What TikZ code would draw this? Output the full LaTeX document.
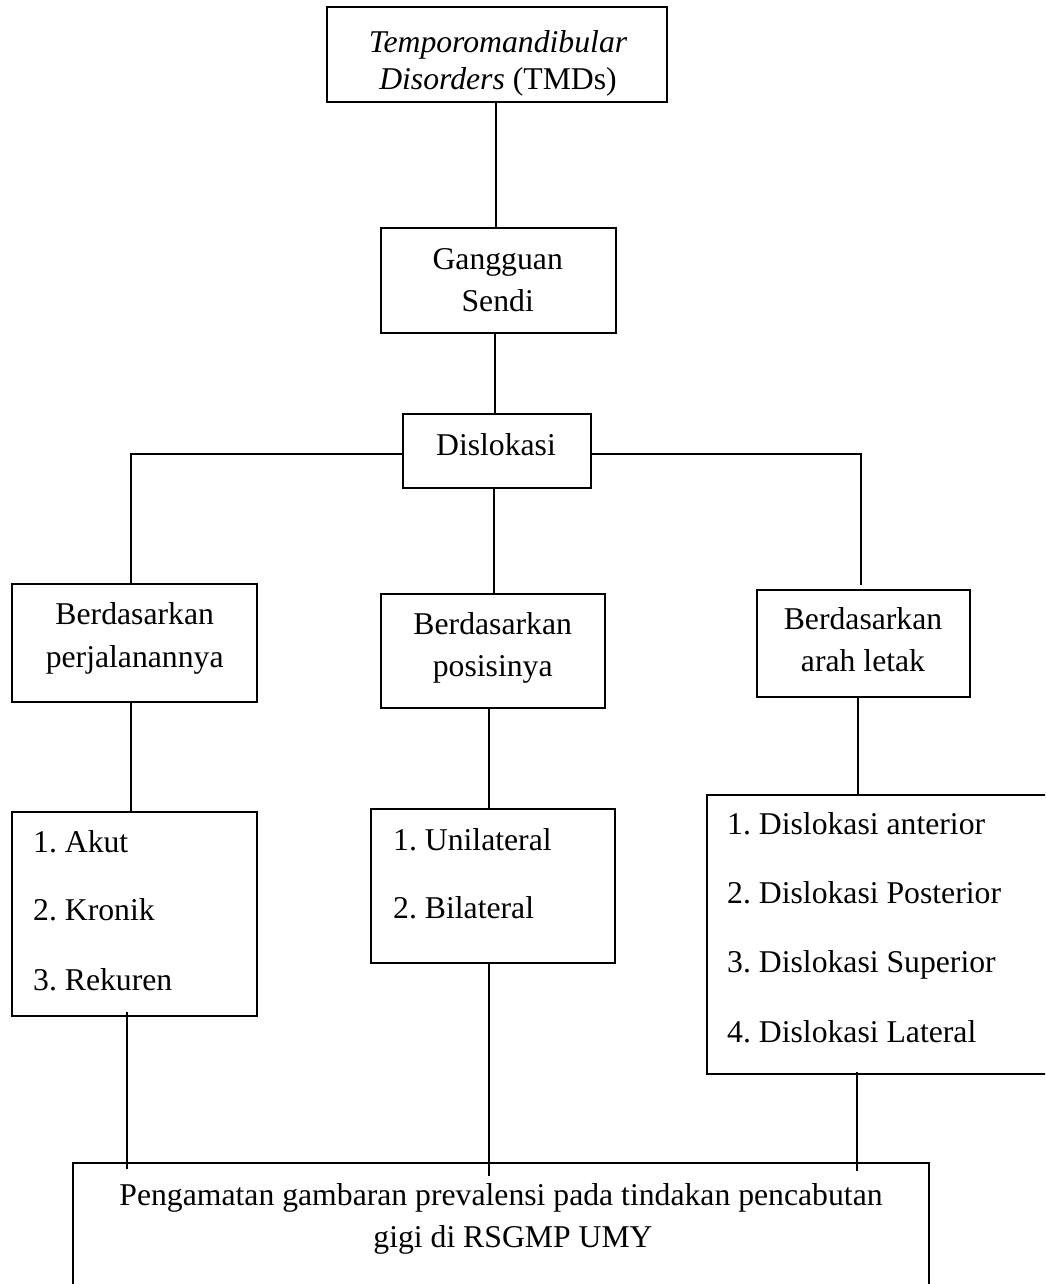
\documentclass[tikz,border=0pt]{standalone}
\usepackage{fontspec}
\setmainfont{Liberation Serif}
\begin{document}
\frenchspacing
\begin{tikzpicture}[x=1pt,y=-1pt,
  box/.style={draw, line width=2.6pt, inner sep=0pt},
  conn/.style={line width=1.5pt},
  txt/.style={inner sep=0pt, anchor=base, font=\fontsize{31.7}{38}\selectfont},
  ltxt/.style={txt, anchor=base west}]
\clip (0,0) rectangle (1045,1284);
\fill[white] (0,0) rectangle (1045,1284);
% boxes
\node[box, minimum width=340pt, minimum height=95pt]  (title) at (497,54.5) {};
\node[box, minimum width=235pt, minimum height=105pt] (gang)  at (498.5,280.5) {};
\node[box, minimum width=188pt, minimum height=74pt]  (disl)  at (497,451) {};
\node[box, minimum width=245pt, minimum height=118pt] (b1)    at (134.5,643) {};
\node[box, minimum width=224pt, minimum height=114pt] (b2)    at (493,651) {};
\node[box, minimum width=213pt, minimum height=107pt] (b3)    at (863.5,643.5) {};
\node[box, minimum width=245pt, minimum height=204pt] (l1)    at (134.5,914) {};
\node[box, minimum width=244pt, minimum height=154pt] (l2)    at (493,886) {};
\node[box, minimum width=353pt, minimum height=279pt] (l3)    at (883.5,934.5) {};
\node[box, minimum width=856pt, minimum height=137pt] (bot)   at (501,1231.5) {};
% texts
\node[txt] (t1) at (498,53) {\itshape Temporomandibular};
\node[txt] (t2) at (498,90) {\textit{Disorders} (TMDs)};
\node[txt] (g1) at (497.7,269) {Gangguan};
\node[txt] (g2) at (497.7,311) {Sendi};
\node[txt] (d1) at (496,455) {Dislokasi};
\node[txt] (b1a) at (134.7,624.5) {Berdasarkan};
\node[txt] (b1b) at (134.7,667) {perjalanannya};
\node[txt] (b2a) at (492.7,634.5) {Berdasarkan};
\node[txt] (b2b) at (492.7,676) {posisinya};
\node[txt] (b3a) at (863,629.5) {Berdasarkan};
\node[txt] (b3b) at (863,671) {arah letak};
\node[ltxt] (l1a) at (33,852) {1. Akut};
\node[ltxt] (l1b) at (33,920) {2. Kronik};
\node[ltxt] (l1c) at (33,990) {3. Rekuren};
\node[ltxt] (l2a) at (393,850) {1. Unilateral};
\node[ltxt] (l2b) at (393,918) {2. Bilateral};
\node[ltxt] (l3a) at (727,834) {1. Dislokasi anterior};
\node[ltxt] (l3b) at (727,903) {2. Dislokasi Posterior};
\node[ltxt] (l3c) at (727,972) {3. Dislokasi Superior};
\node[ltxt] (l3d) at (727,1042) {4. Dislokasi Lateral};
\node[txt] (p1) at (501,1205) {Pengamatan gambaran prevalensi pada tindakan pencabutan};
\node[txt] (p2) at (513,1247) {gigi di RSGMP UMY};
% connectors
\draw[conn] ([xshift=-1pt]title.south) -- ([xshift=-1pt]title.south |- gang.north);
\draw[conn] ([xshift=-3.5pt]gang.south) -- ([xshift=-3.5pt]gang.south |- disl.north);
\draw[conn] ([yshift=-3pt]disl.west) -| ([xshift=-3.5pt]b1.north);
\draw[conn] ([yshift=-3pt]disl.east) -| ([xshift=-2.5pt,yshift=4pt]b3.north);
\draw[conn] ([xshift=-3pt]disl.south) -- ([xshift=-3pt]disl.south |- b2.north);
\draw[conn] ([xshift=-3.5pt]b1.south) -- ([xshift=-3.5pt]b1.south |- l1.north);
\draw[conn] ([xshift=-4pt]b2.south) -- ([xshift=-4pt]b2.south |- l2.north);
\draw[conn] ([xshift=-5.5pt]b3.south) -- ([xshift=-5.5pt]b3.south |- l3.north);
\draw[conn] ([xshift=-7.5pt,yshift=5pt]l1.south) -- ([xshift=-7.5pt,yshift=-7pt]l1.south |- bot.north);
\draw[conn] ([xshift=-4pt,yshift=1pt]l2.south) -- ([xshift=-4pt,yshift=-14pt]l2.south |- bot.north);
\draw[conn] ([xshift=-26.5pt,yshift=3pt]l3.south) -- ([xshift=-26.5pt,yshift=-9pt]l3.south |- bot.north);
\end{tikzpicture}
\end{document}
